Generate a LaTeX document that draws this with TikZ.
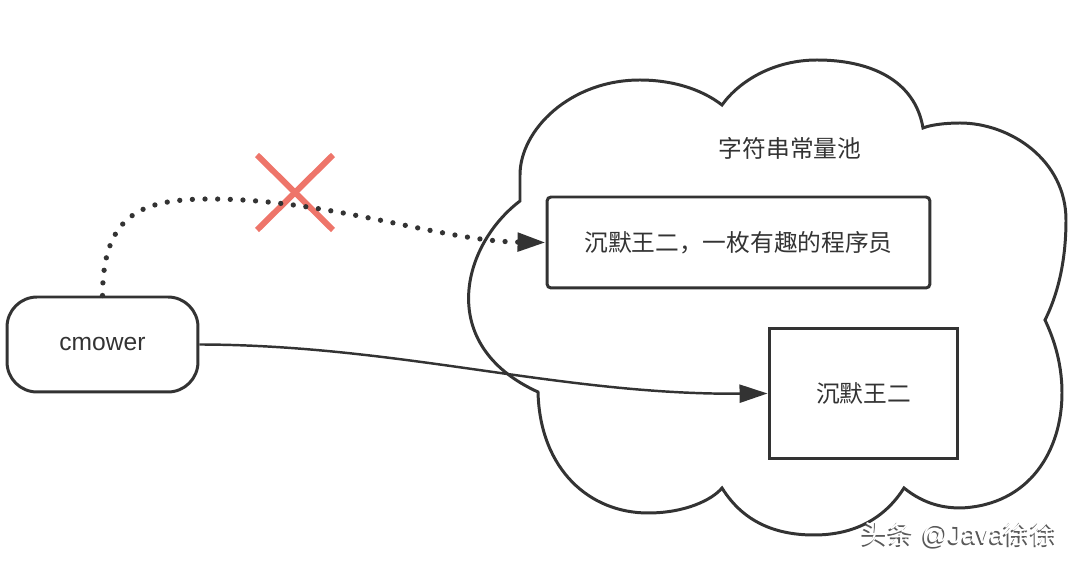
\documentclass[tikz,border=0pt]{standalone}
\usepackage{fontspec}
\setmainfont{Liberation Sans}
\newfontfamily\cjk{Noto Sans CJK SC}
\usepackage{tikz}
\usetikzlibrary{arrows.meta}
\definecolor{ink}{HTML}{333333}
\definecolor{crossred}{HTML}{EE756A}

\begin{document}
\begin{tikzpicture}[x=0.02cm, y=-0.02cm, font=\fontsize{13.5}{16}\selectfont\cjk,
  >={Triangle[length=5.6mm, width=3.6mm]},
  pool/.style={draw=ink, line width=1.7pt},
  strbox/.style={draw=ink, line width=1.7pt, inner sep=0pt, text=ink},
  refline/.style={draw=ink, line width=1.4pt, ->},
  ]
  \useasboundingbox (0,0) rectangle (1080,563);
  % string pool cloud
  \draw[pool] (520,201) .. controls (462,245) and (435,345) .. (538,392)
    .. controls (540,470) and (590,513) .. (648,513)
    .. controls (685,513) and (712,500) .. (722,488)
    .. controls (745,525) and (780,535) .. (814,535)
    .. controls (855,535) and (885,518) .. (904,488)
    .. controls (925,505) and (945,508) .. (961,508)
    .. controls (1030,505) and (1062,450) .. (1062,393)
    .. controls (1062,360) and (1052,335) .. (1045,320)
    .. controls (1060,290) and (1066,255) .. (1066,220)
    .. controls (1066,160) and (1010,123) .. (960,123)
    .. controls (945,123) and (930,125) .. (923,128)
    .. controls (915,80) and (870,60) .. (817,60)
    .. controls (775,60) and (740,80) .. (722,105)
    .. controls (700,88) and (670,80) .. (640,80)
    .. controls (570,80) and (520,130) .. (520,175)
    -- cycle;
  \node[text=ink] (pooltitle) at (790,148) {字符串常量池};

  \node[strbox, rounded corners=0.6cm, minimum width=3.82cm, minimum height=1.9cm,
    font=\fontsize{14}{16}\selectfont\rmfamily] (cmower) at (102.5,344.5) {cmower};
  \node[strbox, rounded corners=0.08cm, minimum width=7.66cm, minimum height=1.82cm] (longstr) at (738.5,242.5) {沉默王二，一枚有趣的程序员};
  \node[strbox, minimum width=3.78cm, minimum height=2.62cm] (shortstr) at (863.5,393.5) {沉默王二};

  % crossed out old reference
  \draw[crossred, line width=3.4pt] (257,155) -- (333,230);
  \draw[crossred, line width=3.4pt] (333,155) -- (257,230);
  \draw[refline, line width=3pt, line cap=round, dash pattern=on 0pt off 7.2pt]
    (cmower.north) .. controls (103,215) and (140,199) .. (210,199)
    .. controls (330,199) and (440,241) .. (longstr.west);
  \draw[refline] (cmower.east) .. controls (400,345) and (560,395) .. (shortstr.west);

  % watermark
  \node[text=black!65, font=\fontsize{15}{17}\selectfont] (markshade) at (958,536) {{\cjk 头条} @Java{\cjk 徐徐}};
  \node[text=white, font=\fontsize{15}{17}\selectfont] (mark) at (959.5,534.5) {{\cjk 头条} @Java{\cjk 徐徐}};
\end{tikzpicture}
\end{document}
